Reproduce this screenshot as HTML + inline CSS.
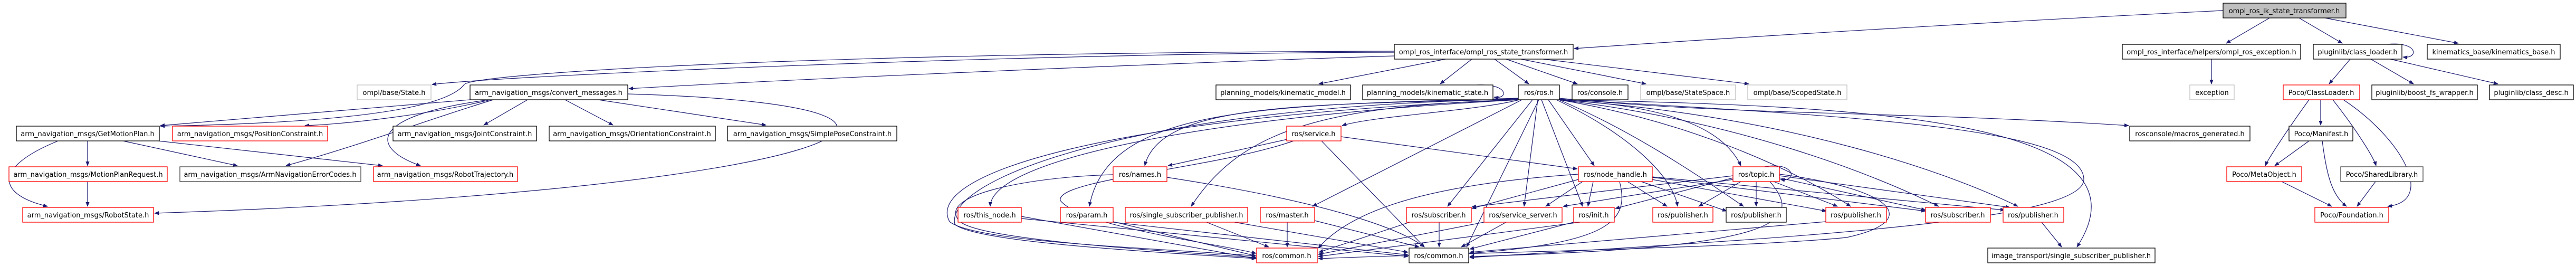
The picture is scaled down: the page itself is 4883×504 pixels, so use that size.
<!DOCTYPE html>
<html><head><meta charset="utf-8"><style>
html,body{margin:0;padding:0;background:#fff;}
svg{display:block;}
text{font-family:"DejaVu Sans","Liberation Sans",sans-serif;font-size:13px;fill:#000;text-anchor:middle;}
.e{fill:none;stroke:#191970;stroke-width:1.2;marker-end:url(#a);}
.b{fill:#fff;stroke:#000;stroke-width:1.3;}
.r{fill:#fff;stroke:#ff0000;stroke-width:1.3;}
.g{fill:#fff;stroke:#bfbfbf;stroke-width:1.3;}
.t{fill:#bfbfbf;stroke:#000;stroke-width:1.3;}
</style></head><body>
<svg width="4883" height="504" viewBox="0 0 4883 504" xmlns="http://www.w3.org/2000/svg">
<defs><marker id="a" viewBox="0 0 10 10" refX="9" refY="5" markerWidth="9" markerHeight="9" markerUnits="userSpaceOnUse" orient="auto"><path d="M0,1 L10,5 L0,9 z" fill="#191970"/></marker></defs>
<g>
<path class="e" d="M4214,20 C3800,40 3300,70 2984,92"/>
<path class="e" d="M4302,34 L4220,82"/>
<path class="e" d="M4358,34 L4440,82"/>
<path class="e" d="M4407,34 L4660,82"/>
<path class="e" d="M4525,84 C4585,78 4585,112 4555,108"/>
<path class="e" d="M4455,112 L4415,159"/>
<path class="e" d="M4494,112 L4575,159"/>
<path class="e" d="M4531,112 L4735,159"/>
<path class="e" d="M4192,112 L4192,159"/>
<path class="e" d="M4399,189 L4399,237"/>
<path class="e" d="M4377,189 C4340,240 4300,300 4294,314"/>
<path class="e" d="M4422,189 C4470,250 4500,300 4504,314"/>
<path class="e" d="M4442,189 C4550,260 4620,380 4526,391"/>
<path class="e" d="M4377,267 L4312,314"/>
<path class="e" d="M4402,267 C4410,330 4420,370 4448,391"/>
<path class="e" d="M4325,344 L4420,391"/>
<path class="e" d="M4503,344 L4468,391"/>
<path class="e" d="M2740,112 L2500,159"/>
<path class="e" d="M2790,112 L2730,159"/>
<path class="e" d="M2833,112 L2898,159"/>
<path class="e" d="M2855,112 L2990,159"/>
<path class="e" d="M2883,112 L3120,159"/>
<path class="e" d="M2925,112 L3315,159"/>
<path class="e" d="M2643,106 C2200,120 1500,150 1192,168"/>
<path class="e" d="M2643,99 C2000,100 1000,140 819,160"/>
<path class="e" d="M2643,97 C1500,100 900,140 880,160 C850,200 700,232 304,239"/>
<path class="e" d="M2800,161 C2860,158 2860,189 2832,184"/>
<path class="e" d="M891,189 L304,238"/>
<path class="e" d="M930,189 C800,220 650,235 578,238"/>
<path class="e" d="M1000,189 L917,237"/>
<path class="e" d="M1071,189 L1162,237"/>
<path class="e" d="M1134,189 L1452,237"/>
<path class="e" d="M935,189 C800,230 700,270 542,314"/>
<path class="e" d="M920,190 C700,220 700,280 797,314"/>
<path class="e" d="M1190,178 C1950,200 1600,360 293,404"/>
<path class="e" d="M166,267 L166,314"/>
<path class="e" d="M233,267 L450,314"/>
<path class="e" d="M300,267 L725,314"/>
<path class="e" d="M110,267 C-20,320 0,370 90,391"/>
<path class="e" d="M166,344 L166,391"/>
<path class="e" d="M2880,189 C2800,210 2600,220 2544,238"/>
<path class="e" d="M2880,187 C2500,200 2200,190 2170,314"/>
<path class="e" d="M2880,186 C2400,200 2100,200 2065,391"/>
<path class="e" d="M2880,189 C2500,200 2350,250 2258,391"/>
<path class="e" d="M2885,189 L2488,391"/>
<path class="e" d="M2905,189 L2744,391"/>
<path class="e" d="M2915,189 L2889,391"/>
<path class="e" d="M2922,189 L3000,391"/>
<path class="e" d="M2935,189 L3022,314"/>
<path class="e" d="M2950,189 C3180,200 3270,250 3300,314"/>
<path class="e" d="M2950,189 C3080,250 3170,330 3180,391"/>
<path class="e" d="M2955,189 C3100,250 3230,340 3305,391"/>
<path class="e" d="M2955,189 C3200,230 3400,320 3508,391"/>
<path class="e" d="M2955,189 C3300,230 3550,330 3675,391"/>
<path class="e" d="M2955,189 C3400,220 3700,330 3825,391"/>
<path class="e" d="M2955,186 C3300,220 3600,210 4035,238"/>
<path class="e" d="M2955,189 C3500,200 4100,220 3937,468"/>
<path class="e" d="M2955,188 C3500,220 3950,240 3950,340 C3950,420 3400,450 2786,488"/>
<path class="e" d="M2880,189 C2300,220 1880,300 1877,391"/>
<path class="e" d="M2880,189 C2100,220 1750,330 1800,420 C1850,460 2200,470 2381,485"/>
<path class="e" d="M2880,188 C2150,200 1790,340 1810,425 C1850,460 2200,478 2381,490"/>
<path class="e" d="M2917,189 L2780,468"/>
<path class="e" d="M2440,264 L2214,314"/>
<path class="e" d="M2505,267 L2700,468"/>
<path class="e" d="M2542,259 L2990,320"/>
<path class="e" d="M2452,267 C2300,320 2000,340 2010,380 C2050,430 2300,460 2381,480"/>
<path class="e" d="M2212,336 C2500,380 2650,430 2700,468"/>
<path class="e" d="M2110,331 C1950,335 1770,370 1820,420 C1860,455 2200,475 2381,488"/>
<path class="e" d="M2110,420 L2381,485"/>
<path class="e" d="M2110,421 L2669,483"/>
<path class="e" d="M2287,421 L2405,468"/>
<path class="e" d="M2340,421 L2669,478"/>
<path class="e" d="M2440,421 L2440,468"/>
<path class="e" d="M2492,418 L2690,468"/>
<path class="e" d="M2672,421 L2500,478"/>
<path class="e" d="M2728,421 L2728,468"/>
<path class="e" d="M2813,421 L2499,482"/>
<path class="e" d="M2855,421 L2770,468"/>
<path class="e" d="M2983,421 L2786,472"/>
<path class="e" d="M2995,421 L2499,486"/>
<path class="e" d="M1936,410 L2381,490"/>
<path class="e" d="M1936,414 L2669,486"/>
<path class="e" d="M3020,344 L3010,391"/>
<path class="e" d="M3085,344 L3160,391"/>
<path class="e" d="M3111,344 L3273,400"/>
<path class="e" d="M3131,340 L3462,400"/>
<path class="e" d="M2992,340 L2790,395"/>
<path class="e" d="M3000,344 L2930,391"/>
<path class="e" d="M3131,336 L3650,400"/>
<path class="e" d="M3131,335 L3800,398"/>
<path class="e" d="M3070,344 C3090,420 3050,460 2786,480"/>
<path class="e" d="M2992,330 C2700,350 2560,400 2499,470"/>
<path class="e" d="M3300,344 L3220,391"/>
<path class="e" d="M3329,344 L3329,391"/>
<path class="e" d="M3362,344 L3483,391"/>
<path class="e" d="M3373,337 L3650,398"/>
<path class="e" d="M3373,333 L3810,393"/>
<path class="e" d="M3285,337 L3062,395"/>
<path class="e" d="M3285,333 L2790,392"/>
<path class="e" d="M3285,340 L2963,391"/>
<path class="e" d="M3345,316 C3400,305 3410,345 3375,340"/>
<path class="e" d="M3355,344 C3420,420 3380,470 2786,486"/>
<path class="e" d="M3373,330 C3600,360 3640,420 3500,450 C3300,470 2800,478 2499,490"/>
<path class="e" d="M3461,420 L2786,478"/>
<path class="e" d="M3870,421 L3908,468"/>
</g>
<g>
<rect class="t" x="4214" y="6" width="233" height="28"/><text x="4330" y="25">ompl_ros_ik_state_transformer.h</text>
<rect class="b" x="2643" y="84" width="339" height="28"/><text x="2812" y="103">ompl_ros_interface/ompl_ros_state_transformer.h</text>
<rect class="b" x="4023" y="84" width="338" height="28"/><text x="4192" y="103">ompl_ros_interface/helpers/ompl_ros_exception.h</text>
<rect class="b" x="4385" y="84" width="168" height="28"/><text x="4469" y="103">pluginlib/class_loader.h</text>
<rect class="b" x="4601" y="84" width="252" height="28"/><text x="4727" y="103">kinematics_base/kinematics_base.h</text>

<rect class="g" x="677" y="161" width="140" height="28"/><text x="747" y="180">ompl/base/State.h</text>
<rect class="b" x="891" y="161" width="299" height="28"/><text x="1040" y="180">arm_navigation_msgs/convert_messages.h</text>
<rect class="b" x="2305" y="161" width="255" height="28"/><text x="2432" y="180">planning_models/kinematic_model.h</text>
<rect class="b" x="2583" y="161" width="247" height="28"/><text x="2706" y="180">planning_models/kinematic_state.h</text>
<rect class="b" x="2878" y="161" width="78" height="28"/><text x="2917" y="180">ros/ros.h</text>
<rect class="b" x="2980" y="161" width="106" height="28"/><text x="3033" y="180">ros/console.h</text>
<rect class="g" x="3110" y="161" width="180" height="28"/><text x="3200" y="180">ompl/base/StateSpace.h</text>
<rect class="g" x="3313" y="161" width="188" height="28"/><text x="3407" y="180">ompl/base/ScopedState.h</text>
<rect class="g" x="4151" y="161" width="84" height="28"/><text x="4193" y="180">exception</text>
<rect class="r" x="4328" y="161" width="145" height="28"/><text x="4400" y="180">Poco/ClassLoader.h</text>
<rect class="b" x="4496" y="161" width="200" height="28"/><text x="4596" y="180">pluginlib/boost_fs_wrapper.h</text>
<rect class="b" x="4719" y="161" width="159" height="28"/><text x="4798" y="180">pluginlib/class_desc.h</text>

<rect class="b" x="31" y="239" width="271" height="28"/><text x="166" y="258">arm_navigation_msgs/GetMotionPlan.h</text>
<rect class="r" x="327" y="239" width="294" height="28"/><text x="474" y="258">arm_navigation_msgs/PositionConstraint.h</text>
<rect class="b" x="745" y="239" width="272" height="28"/><text x="881" y="258">arm_navigation_msgs/JointConstraint.h</text>
<rect class="b" x="1041" y="239" width="315" height="28"/><text x="1198" y="258">arm_navigation_msgs/OrientationConstraint.h</text>
<rect class="b" x="1379" y="239" width="321" height="28"/><text x="1540" y="258">arm_navigation_msgs/SimplePoseConstraint.h</text>
<rect class="r" x="2439" y="239" width="103" height="28"/><text x="2490" y="258">ros/service.h</text>
<rect class="b" x="4037" y="239" width="228" height="28"/><text x="4151" y="258">rosconsole/macros_generated.h</text>
<rect class="b" x="4339" y="239" width="121" height="28"/><text x="4400" y="258">Poco/Manifest.h</text>

<rect class="r" x="17" y="316" width="300" height="28"/><text x="167" y="335">arm_navigation_msgs/MotionPlanRequest.h</text>
<rect class="b" x="341" y="316" width="343" height="28" style="stroke:#404040"/><text x="512" y="335">arm_navigation_msgs/ArmNavigationErrorCodes.h</text>
<rect class="r" x="708" y="316" width="273" height="28"/><text x="844" y="335">arm_navigation_msgs/RobotTrajectory.h</text>
<rect class="r" x="2110" y="316" width="102" height="28"/><text x="2161" y="335">ros/names.h</text>
<rect class="r" x="2992" y="316" width="140" height="28"/><text x="3062" y="335">ros/node_handle.h</text>
<rect class="r" x="3285" y="316" width="88" height="28"/><text x="3329" y="335">ros/topic.h</text>
<rect class="r" x="4221" y="316" width="142" height="28"/><text x="4292" y="335">Poco/MetaObject.h</text>
<rect class="b" x="4437" y="316" width="156" height="28" style="stroke:#404040"/><text x="4515" y="335">Poco/SharedLibrary.h</text>

<rect class="r" x="43" y="393" width="248" height="28"/><text x="167" y="412">arm_navigation_msgs/RobotState.h</text>
<rect class="r" x="1816" y="393" width="120" height="28"/><text x="1876" y="412">ros/this_node.h</text>
<rect class="r" x="2010" y="393" width="100" height="28"/><text x="2060" y="412">ros/param.h</text>
<rect class="r" x="2133" y="393" width="232" height="28"/><text x="2249" y="412">ros/single_subscriber_publisher.h</text>
<rect class="r" x="2389" y="393" width="103" height="28"/><text x="2440" y="412">ros/master.h</text>
<rect class="r" x="2666" y="393" width="123" height="28"/><text x="2727" y="412">ros/subscriber.h</text>
<rect class="r" x="2813" y="393" width="148" height="28"/><text x="2887" y="412">ros/service_server.h</text>
<rect class="r" x="2983" y="393" width="77" height="28"/><text x="3021" y="412">ros/init.h</text>
<rect class="r" x="3133" y="393" width="114" height="28"/><text x="3190" y="412">ros/publisher.h</text>
<rect class="b" x="3272" y="393" width="114" height="28"/><text x="3329" y="412">ros/publisher.h</text>
<rect class="r" x="3461" y="393" width="115" height="28"/><text x="3518" y="412">ros/publisher.h</text>
<rect class="r" x="3650" y="393" width="123" height="28"/><text x="3711" y="412">ros/subscriber.h</text>
<rect class="r" x="3797" y="393" width="115" height="28"/><text x="3854" y="412">ros/publisher.h</text>
<rect class="r" x="4388" y="393" width="140" height="28"/><text x="4458" y="412">Poco/Foundation.h</text>

<rect class="r" x="2382" y="470" width="115" height="28"/><text x="2439" y="489">ros/common.h</text>
<rect class="b" x="2671" y="470" width="113" height="28"/><text x="2727" y="489">ros/common.h</text>
<rect class="b" x="3768" y="470" width="317" height="28"/><text x="3926" y="489">image_transport/single_subscriber_publisher.h</text>
</g>
</svg>
</body></html>
